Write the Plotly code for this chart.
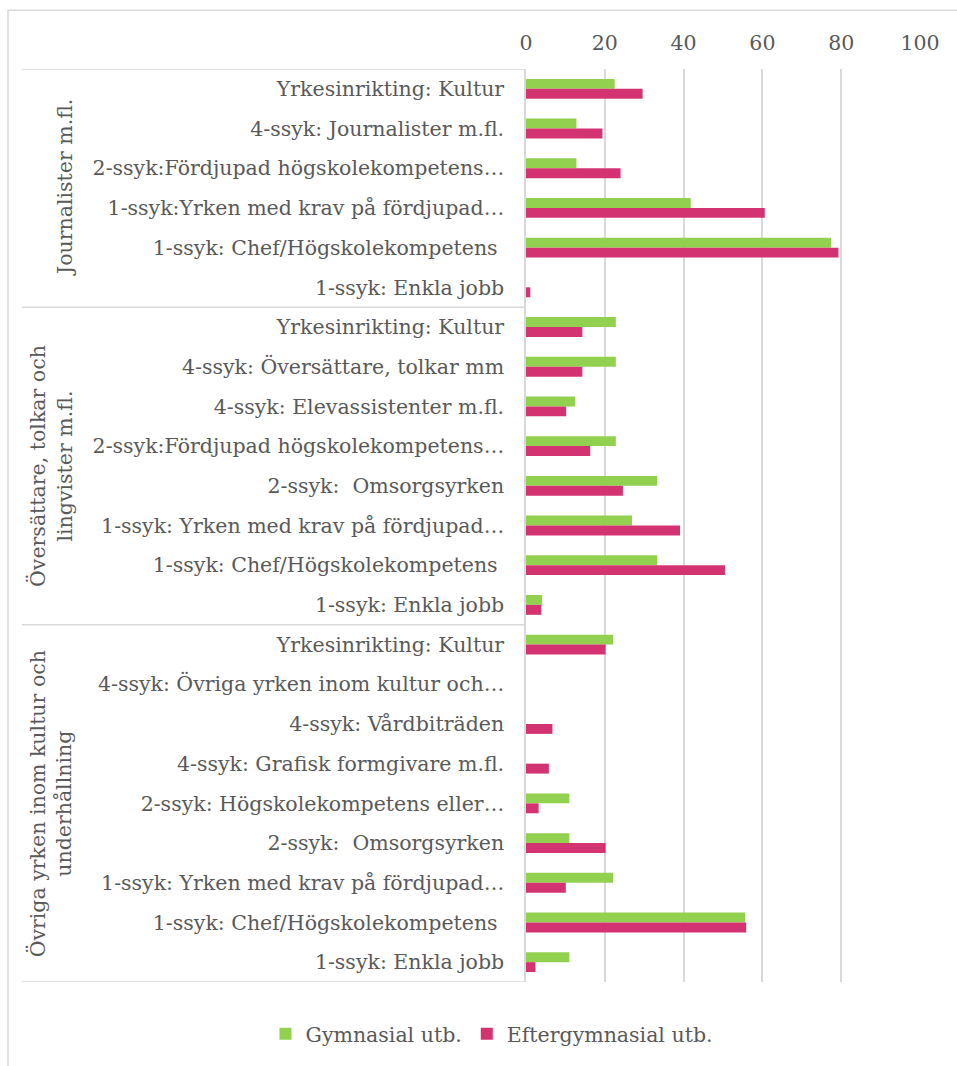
import plotly.graph_objects as go

# Occupational groups (top to bottom) and their sub-categories
groups = [
    "Journalister m.fl.",
    "Översättare, tolkar och<br>lingvister m.fl.",
    "Övriga yrken inom kultur och<br>underhållning",
]

cats_journalister = [
    "Yrkesinrikting: Kultur",
    "4-ssyk: Journalister m.fl.",
    "2-ssyk:Fördjupad högskolekompetens…",
    "1-ssyk:Yrken med krav på fördjupad…",
    "1-ssyk: Chef/Högskolekompetens ",
    "1-ssyk: Enkla jobb",
]
cats_oversattare = [
    "Yrkesinrikting: Kultur",
    "4-ssyk: Översättare, tolkar mm",
    "4-ssyk: Elevassistenter m.fl.",
    "2-ssyk:Fördjupad högskolekompetens…",
    "2-ssyk:  Omsorgsyrken",
    "1-ssyk: Yrken med krav på fördjupad…",
    "1-ssyk: Chef/Högskolekompetens ",
    "1-ssyk: Enkla jobb",
]
cats_ovriga = [
    "Yrkesinrikting: Kultur",
    "4-ssyk: Övriga yrken inom kultur och…",
    "4-ssyk: Vårdbiträden",
    "4-ssyk: Grafisk formgivare m.fl.",
    "2-ssyk: Högskolekompetens eller…",
    "2-ssyk:  Omsorgsyrken",
    "1-ssyk: Yrken med krav på fördjupad…",
    "1-ssyk: Chef/Högskolekompetens ",
    "1-ssyk: Enkla jobb",
]

# Shares (%) by education level
gym_journalister = [22.5, 12.8, 12.8, 41.8, 77.4, 0]
eft_journalister = [29.6, 19.4, 24.0, 60.6, 79.3, 1.1]

gym_oversattare = [22.8, 22.8, 12.5, 22.8, 33.3, 26.9, 33.3, 4.1]
eft_oversattare = [14.3, 14.3, 10.2, 16.3, 24.6, 39.1, 50.5, 3.9]

gym_ovriga = [22.1, None, 0, 0, 11.0, 11.0, 22.1, 55.6, 11.0]
eft_ovriga = [20.2, None, 6.7, 5.8, 3.2, 20.2, 10.1, 55.9, 2.4]

x_ticks = [0, 20, 40, 60, 80, 100]

GREEN = "#92D050"
PINK = "#D33471"
GRID = "#D9D9D9"
TEXT = "#595959"
FONT = "DejaVu Serif"
FS = 20.5

group_cats = [cats_journalister, cats_oversattare, cats_ovriga]
labels = cats_journalister + cats_oversattare + cats_ovriga
gym = gym_journalister + gym_oversattare + gym_ovriga
eft = eft_journalister + eft_oversattare + eft_ovriga
ypos = list(range(len(labels)))

fig = go.Figure()
fig.add_trace(go.Bar(y=ypos, x=gym, orientation="h", name="Gymnasial utb.",
                     marker=dict(color=GREEN, line=dict(width=0))))
fig.add_trace(go.Bar(y=ypos, x=eft, orientation="h", name="Eftergymnasial utb.",
                     marker=dict(color=PINK, line=dict(width=0))))

# Plot area geometry (pixels) used for the category-label column
W, H = 957, 1066
L, R, T, B = 526, 37, 69, 81
pw = W - L - R
ph = H - T - B

def px_x(p):
    return (p - L) / pw

def px_y(p):
    return (H - B - p) / ph

shapes = []
annotations = []
start = 0
bounds = [-0.5]
for g, cats in zip(groups, group_cats):
    end = start + len(cats)
    bounds.append(end - 0.5)
    annotations.append(dict(
        x=px_x(79), xref="paper", y=(start + end - 1) / 2, yref="y",
        text=g, textangle=-90, showarrow=False, xanchor="right", yanchor="middle",
        font=dict(family=FONT, size=FS, color=TEXT), align="center",
    ))
    start = end

for b in bounds:
    shapes.append(dict(type="line", xref="paper", yref="y",
                       x0=px_x(22), x1=0, y0=b, y1=b,
                       line=dict(color=GRID, width=1.5)))

# Outer chart border
shapes.append(dict(type="rect", xref="paper", yref="paper",
                   x0=px_x(8), x1=px_x(W + 20), y0=px_y(H + 20), y1=px_y(10),
                   line=dict(color=GRID, width=1.5), fillcolor="rgba(0,0,0,0)",
                   layer="below"))

fig.update_layout(
    width=W, height=H,
    margin=dict(l=L, r=R, t=T, b=B),
    paper_bgcolor="white", plot_bgcolor="white",
    barmode="group", bargap=0.5, bargroupgap=0,
    font=dict(family=FONT, size=FS, color=TEXT),
    shapes=shapes, annotations=annotations,
    showlegend=True,
    legend=dict(orientation="h", x=px_x(492), xanchor="center",
                y=px_y(1037), yanchor="middle",
                font=dict(family=FONT, size=FS, color=TEXT),
                itemwidth=30, tracegroupgap=0),
    xaxis=dict(side="top", range=[0, 100], tickvals=x_ticks,
               showgrid=True, gridcolor=GRID, gridwidth=1.5,
               zeroline=False, showline=False, ticks="", ticklabelstandoff=14,
               tickfont=dict(family=FONT, size=FS, color=TEXT)),
    yaxis=dict(range=[len(labels) - 0.5, -0.5], tickvals=ypos, ticktext=labels,
               showgrid=False, zeroline=False, showline=True, linecolor=GRID,
               linewidth=1.5, ticks="", ticklabelstandoff=16,
               tickfont=dict(family=FONT, size=FS, color=TEXT)),
)

fig.write_html("out.html")
